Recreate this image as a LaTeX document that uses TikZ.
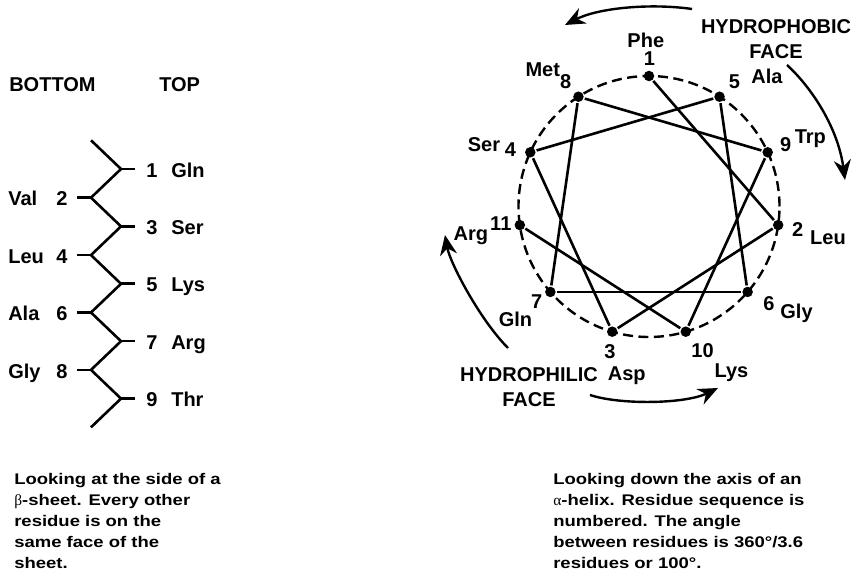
\documentclass[tikz,border=0pt]{standalone}
\usepackage{fontspec}
\setmainfont{Liberation Sans}
\newfontfamily\capfamily{Liberation Sans}[FakeStretch=1.2]
\newfontfamily\grkfamily{Liberation Serif}
\usetikzlibrary{arrows.meta,calc}

\newcommand{\lblfont}{\bfseries\fontsize{20}{25}\selectfont}
\newcommand{\capfont}{\capfamily\bfseries\fontsize{15.4}{20.9}\selectfont}
\newcommand{\grk}[1]{{\grkfamily\mdseries #1}}

\begin{document}
\begin{tikzpicture}[
  x=1pt, y=1pt,
  line width=2.6pt,
  >={Stealth[length=20pt,width=17pt]},
  lbl/.style={font=\lblfont, inner sep=0pt, text height=14.3pt, text depth=0pt},
  face/.style={font=\lblfont, align=center, inner sep=0pt, anchor=north},
  dot/.style={circle, fill, inner sep=0pt, minimum size=10.5pt},
  captxt/.style={font=\capfont, align=left, inner sep=0pt, anchor=north west},
]
\useasboundingbox (0,0) rectangle (865,578);

% beta sheet, side view
\node[lbl,anchor=west] (bottom) at (8,494) {BOTTOM};
\node[lbl,anchor=west] (top) at (158,494) {TOP};

\coordinate (s0) at (91,437.7);
\foreach \i in {1,...,9} {
  \pgfmathsetmacro{\xs}{isodd(\i) ? 121 : 91}
  \coordinate (s\i) at (\xs,{409-(\i-1)*28.7});
}
\coordinate (s10) at (91,150.7);
\draw (s0) \foreach \i in {1,...,10} {-- (s\i)};

\foreach \i/\res in {1/Gln,3/Ser,5/Lys,7/Arg,9/Thr} {
  \draw (s\i) -- ++(14,0);
  \node[lbl] (n\i) at ($(s\i)+(31,-1)$) {\i};
  \node[lbl,anchor=west] (r\i) at ($(s\i)+(49,-1)$) {\res};
}
\foreach \i/\res in {2/Val,4/Leu,6/Ala,8/Gly} {
  \draw (s\i) -- ++(-14,0);
  \node[lbl] (n\i) at ($(s\i)+(-29,-1)$) {\i};
  \node[lbl,anchor=west] (r\i) at ($(s\i)+(-84,-1)$) {\res};
}

% alpha helix, down the axis
\coordinate (hc) at (649,371.5);
\draw[dash pattern=on 10pt off 5.5pt, line width=2.4pt] (hc) circle (130.5);
\foreach \k in {1,...,11}
  \node[dot] (h\k) at ($(hc)+({90-(\k-1)*1080/11}:130.5)$) {};
\foreach \k [remember=\k as \j (initially 1)] in {2,...,11}
  \draw (h\j) -- (h\k);

\node[lbl] (phe) at (645.8,538) {Phe};
\node[lbl] (l1) at (649.5,519.7) {1};
\node[lbl] (met) at (542.8,509) {Met};
\node[lbl] (l8) at (565.8,496.3) {8};
\node[lbl] (l5) at (734.5,497) {5};
\node[lbl] (ala) at (767,501.3) {Ala};
\node[lbl] (l9) at (785.8,434) {9};
\node[lbl] (trp) at (810.3,441.7) {Trp};
\node[lbl] (ser) at (484,434) {Ser};
\node[lbl] (l4) at (510.5,429) {4};
\node[lbl] (arg) at (470.8,344.3) {Arg};
\node[lbl] (l11) at (500.8,354.7) {11};
\node[lbl] (l2) at (797.7,349) {2};
\node[lbl] (leu) at (828,340.5) {Leu};
\node[lbl] (l7) at (536.7,276.5) {7};
\node[lbl] (gln) at (515.5,259) {Gln};
\node[lbl] (l6) at (769,275) {6};
\node[lbl] (gly) at (796.5,266.5) {Gly};
\node[lbl] (l3) at (610,226.5) {3};
\node[lbl] (l10) at (702.5,228) {10};
\node[lbl] (asp) at (626.7,204.3) {Asp};
\node[lbl] (lys) at (731.5,208) {Lys};
\node[face] (phob) at (776,559.7) {HYDROPHOBIC\\FACE};
\node[face] (phil) at (529,211.3) {HYDROPHILIC\\FACE};

% face arrows
\draw[->, line width=2.4pt] (692,569) .. controls (650,575) and (598,570) .. (565,553);
\draw[->, line width=2.4pt] (787,513) .. controls (812,490) and (838,450) .. (845,398);
\draw[->, line width=2.4pt] (508,230) .. controls (480,258) and (450,315) .. (445,343);
\draw[->, line width=2.4pt] (590,183) .. controls (620,173) and (685,174) .. (718,190);

% captions
\node[captxt] (capl) at (13,106) {Looking at the side of a\\\grk{β}-sheet. Every other\\residue is on the\\same face of the\\sheet.};
\node[captxt] (capr) at (552,106) {Looking down the axis of an\\\grk{α}-helix. Residue sequence is\\numbered. The angle\\between residues is 360°/3.6\\residues or 100°.};
\end{tikzpicture}
\end{document}
